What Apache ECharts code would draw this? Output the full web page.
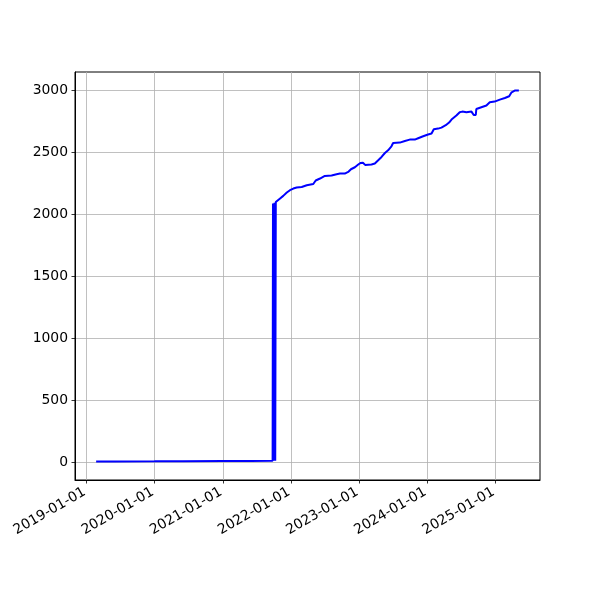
<!DOCTYPE html>
<html>
<head>
<meta charset="utf-8">
<script src="https://cdn.jsdelivr.net/npm/echarts@6/dist/echarts.min.js"></script>
<style>html,body{margin:0;padding:0;background:#fff}#c{width:600px;height:600px}</style>
</head>
<body>
<div id="c"></div>
<script>
const dates = ['2019-02-22','2019-06-01','2020-01-01','2020-06-01','2021-01-01','2021-06-01','2021-09-25',
'2021-09-27','2021-10-01','2021-10-05','2021-10-09','2021-10-12',
'2021-10-17','2021-11-04','2021-11-21','2021-12-10','2021-12-27',
'2022-01-14','2022-02-01','2022-02-28','2022-03-27','2022-05-01','2022-05-14','2022-06-06','2022-07-02','2022-08-07','2022-09-03','2022-09-21','2022-10-17','2022-11-04','2022-11-19','2022-12-10','2022-12-28',
'2023-01-10','2023-01-22','2023-02-03','2023-03-09','2023-03-27','2023-04-14','2023-05-02','2023-05-20','2023-06-06','2023-06-24','2023-07-03','2023-08-08','2023-09-04','2023-09-30','2023-10-27','2023-11-14','2023-12-11',
'2024-01-06','2024-01-25','2024-02-06','2024-02-29','2024-03-18','2024-04-10','2024-04-28','2024-05-11','2024-06-06','2024-06-24','2024-07-08','2024-07-30','2024-08-26','2024-09-03','2024-09-07','2024-09-18','2024-09-21','2024-10-18','2024-11-14','2024-12-02','2024-12-28',
'2025-01-25','2025-02-21','2025-03-16','2025-03-29','2025-04-15','2025-05-07'];
const values = [5,5,6,7,8,9,10,
2086,11,2092,11,2098,
2107,2127,2148,2175,2194,
2207,2215,2220,2234,2244,2272,2288,2309,2312,2323,2328,2328,2341,2363,2379,2401,
2414,2416,2398,2401,2409,2435,2462,2494,2516,2548,2575,2578,2591,2602,2602,2613,2629,
2643,2651,2685,2691,2699,2718,2740,2764,2796,2823,2828,2823,2828,2831,2801,2801,2849,2863,2877,2903,2909,
2925,2938,2952,2984,2998,2998];
const xTickLabels = ['2019-01-01','2020-01-01','2021-01-01','2022-01-01','2023-01-01','2024-01-01','2025-01-01'];
const yTicks = [0,500,1000,1500,2000,2500,3000];

function ts(s){ const p = s.split('-').map(Number); return Date.UTC(p[0], p[1]-1, p[2]); }
function fmt(v){ const d = new Date(v); const p = n => (n < 10 ? '0' : '') + n; return d.getUTCFullYear() + '-' + p(d.getUTCMonth()+1) + '-' + p(d.getUTCDate()); }
const xs = dates.map(ts);
const xTickVals = xTickLabels.map(ts);
const xMinD = Math.min(...xs), xMaxD = Math.max(...xs);
const xPad = (xMaxD - xMinD) * 0.05;
const yMinD = Math.min(...values), yMaxD = Math.max(...values);
const yPad = (yMaxD - yMinD) * 0.05;

const font = {fontFamily: 'DejaVu Sans', fontSize: 13.9, color: '#000'};
const chart = echarts.init(document.getElementById('c'), null, {renderer: 'canvas'});
chart.setOption({
  animation: false,
  backgroundColor: '#fff',
  grid: {left: 75, right: 60, top: 72, bottom: 120, show: true, borderColor: '#000', borderWidth: 1, backgroundColor: 'transparent', containLabel: false},
  xAxis: {
    type: 'value',
    min: xMinD - xPad, max: xMaxD + xPad,
    axisLine: {show: true, onZero: false, lineStyle: {color: '#000', width: 1}},
    axisTick: {show: true, inside: false, length: 3.5, lineStyle: {color: '#000', width: 0.8}, customValues: xTickVals},
    axisLabel: Object.assign({rotate: 30, margin: 10, padding: [0, 2, 0, 0], hideOverlap: false, customValues: xTickVals,
      formatter: function(v){ return fmt(v); }}, font),
    splitLine: {show: true, lineStyle: {color: '#b0b0b0', width: 0.8}}
  },
  yAxis: {
    type: 'value',
    min: yMinD - yPad, max: yMaxD + yPad,
    axisLine: {show: true, onZero: false, lineStyle: {color: '#000', width: 1}},
    axisTick: {show: true, inside: false, length: 3.5, lineStyle: {color: '#000', width: 0.8}, customValues: yTicks},
    axisLabel: Object.assign({margin: 7, customValues: yTicks, formatter: function(v){ return String(v); }}, font),
    splitLine: {show: true, lineStyle: {color: '#b0b0b0', width: 0.8}}
  },
  series: [{
    type: 'line',
    data: xs.map((x, i) => [x, values[i]]),
    showSymbol: false,
    symbol: 'none',
    lineStyle: {color: '#0000ff', width: 2},
    itemStyle: {color: '#0000ff'},
    clip: true
  }]
});
</script>
</body>
</html>
